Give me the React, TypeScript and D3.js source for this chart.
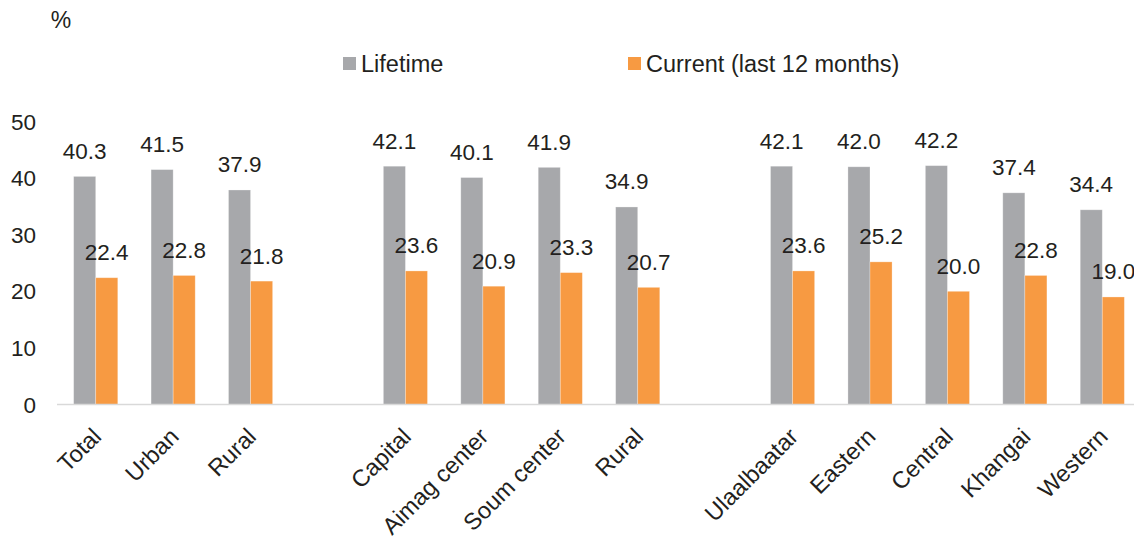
import React from "react";
import * as d3 from "d3";

const categories = ["Total", "Urban", "Rural", "Capital", "Aimag center", "Soum center", "Rural", "Ulaalbaatar", "Eastern", "Central", "Khangai", "Western"];
const groups = [0, 0, 0, 1, 1, 1, 1, 2, 2, 2, 2, 2];
const lifetime = [40.3, 41.5, 37.9, 42.1, 40.1, 41.9, 34.9, 42.1, 42.0, 42.2, 37.4, 34.4];
const current = [22.4, 22.8, 21.8, 23.6, 20.9, 23.3, 20.7, 23.6, 25.2, 20.0, 22.8, 19.0];
const seriesNames = ["Lifetime", "Current (last 12 months)"];
const yTicks = [0, 10, 20, 30, 40, 50];

const W = 1134;
const H = 540;
const GRAY = "#A7A8AB";
const ORANGE = "#F79A42";
const TEXT = "#231F20";
const FONT = "Liberation Sans, Arial, sans-serif";

export default function App() {
  const slots: string[] = [];
  const keyOf: string[] = [];
  categories.forEach((c, i) => {
    if (i > 0 && groups[i] !== groups[i - 1]) slots.push(`gap-${i}`);
    const k = `${i}-${c}`;
    slots.push(k);
    keyOf.push(k);
  });

  const x = d3.scaleBand<string>().domain(slots).range([57, 1141]).paddingInner(0.43).paddingOuter(0.215);
  const sub = d3.scaleBand<string>().domain(seriesNames).range([0, x.bandwidth()]);
  const y = d3.scaleLinear().domain([0, 50]).range([404.5, 121.5]);
  const values = [lifetime, current];
  const colors = [GRAY, ORANGE];

  return (
    <svg width={W} height={H} style={{ position: "absolute", left: 0, top: 0, background: "#fff" }} fontFamily={FONT}>
      <text x={61} y={28} fontSize={23} fill={TEXT} textAnchor="middle">%</text>

      {/* legend */}
      <rect x={343} y={57} width={13} height={13} fill={GRAY} />
      <text x={361} y={72} fontSize={23.5} fill={TEXT}>{seriesNames[0]}</text>
      <rect x={628} y={57} width={13} height={13} fill={ORANGE} />
      <text x={646} y={72} fontSize={23.5} fill={TEXT}>{seriesNames[1]}</text>

      {/* y tick labels */}
      {yTicks.map((t) => (
        <text key={t} x={36} y={y(t)} dy="0.36em" fontSize={22.5} fill={TEXT} textAnchor="end">{t}</text>
      ))}

      {/* bars */}
      {seriesNames.map((s, si) =>
        values[si].map((v, i) => {
          const bx = (x(keyOf[i]) ?? 0) + (sub(s) ?? 0);
          return (
            <rect key={`${s}-${i}`} x={bx} y={y(v)} width={sub.bandwidth()} height={y(0) - y(v)} fill={colors[si]} stroke="#fff" strokeOpacity={0.35} strokeWidth={0.8} />
          );
        })
      )}

      {/* axis line */}
      <line x1={57} x2={W} y1={y(0)} y2={y(0)} stroke="#D9D9D9" strokeWidth={1.5} />

      {/* data labels */}
      {seriesNames.map((s, si) =>
        values[si].map((v, i) => {
          const cx = (x(keyOf[i]) ?? 0) + (sub(s) ?? 0) + sub.bandwidth() / 2;
          return (
            <text key={`l-${s}-${i}`} x={cx} y={y(v) - 17.5} fontSize={22.5} fill={TEXT} textAnchor="middle">{v.toFixed(1)}</text>
          );
        })
      )}

      {/* category labels */}
      {categories.map((c, i) => {
        const cx = (x(keyOf[i]) ?? 0) + x.bandwidth() / 2;
        return (
          <text key={`c-${i}`} transform={`translate(${cx + 7},${438}) rotate(-45)`} fontSize={23.5} fill={TEXT} textAnchor="end">{c}</text>
        );
      })}
    </svg>
  );
}
